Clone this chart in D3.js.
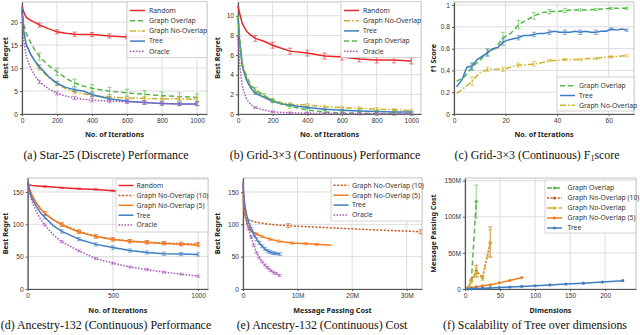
<!DOCTYPE html>
<html>
<head>
<meta charset="utf-8">
<script src="https://cdn.jsdelivr.net/npm/d3@7"></script>
<style>
  body { margin: 0; background: #fff; }
  svg { display: block; }
</style>
</head>
<body>
<div id="chart"></div>
<script>
// ---- (a) Star-25 (Discrete) ----
const itersA = [0, 10, 25, 50, 75, 100, 150, 200, 250, 300, 350, 400, 500, 600, 700, 800, 900, 1000];
const randomA = [23.5, 22.2, 21, 20.4, 19.9, 19.4, 18.6, 17.9, 17.6, 17.4, 17.3, 17.3, 17.0, 16.8, 16.7, 16.6, 16.5, 16.5];
const overlapA = [23, 19.5, 17.5, 15.5, 13.8, 12.5, 10.6, 9.2, 7.8, 6.8, 6.1, 5.6, 5.0, 4.6, 4.3, 4.0, 3.8, 3.6];
const noOverlapA = [23, 18, 15, 13, 11.2, 10, 8, 6.6, 5.5, 4.8, 4.4, 4.1, 3.7, 3.5, 3.4, 3.3, 3.3, 3.2];
const treeA = [23, 18, 15, 13, 11.5, 10.3, 8.2, 6.7, 5.8, 5.3, 5.0, 4.2, 3.3, 2.8, 2.5, 2.3, 2.2, 2.2];
const oracleA = [22, 16, 12.5, 10, 8.2, 7.0, 5.5, 4.5, 3.9, 3.5, 3.2, 3.0, 2.8, 2.7, 2.5, 2.3, 2.2, 2.2];
const errItersA = [100, 200, 300, 400, 500, 600, 700, 800, 900, 1000];

// ---- (b) Grid-3x3 (Continuous) ----
const itersB = [0, 10, 25, 50, 75, 100, 150, 200, 250, 300, 400, 500, 600, 700, 800, 900, 1000];
const randomB = [11, 10.2, 9.2, 8.4, 8.0, 7.7, 7.4, 7.0, 6.7, 6.4, 6.2, 5.9, 5.8, 5.6, 5.5, 5.5, 5.4];
const noOverlapB = [10, 7.5, 5.2, 3.7, 2.8, 2.3, 1.8, 1.4, 1.15, 1.0, 0.9, 0.75, 0.65, 0.58, 0.5, 0.42, 0.35];
const treeB = [10, 7.2, 4.8, 3.4, 2.6, 2.1, 1.7, 1.3, 1.05, 0.9, 0.65, 0.48, 0.38, 0.3, 0.25, 0.2, 0.2];
const overlapB = [10, 7.5, 5.0, 3.8, 2.9, 2.5, 1.9, 1.35, 1.0, 0.8, 0.4, 0.2, 0.12, 0.08, 0.05, 0.04, 0.03];
const oracleB = [8, 5, 2.8, 1.5, 0.95, 0.65, 0.4, 0.22, 0.16, 0.12, 0.07, 0.05, 0.04, 0.03, 0.02, 0.02, 0.02];
const errItersB = [100, 200, 300, 400, 500, 600, 700, 800, 900, 1000];

// ---- (c) Grid-3x3 (Continuous) F1 score ----
const itersTreeC = [1, 3, 5, 7, 9, 11, 13, 15, 17, 19, 21, 23, 25, 27, 29, 31, 33, 35, 37, 39, 41, 43, 45, 47, 49, 51, 53, 55, 57, 59, 61, 63, 65, 67];
const treeC = [0.25, 0.31, 0.43, 0.44, 0.5, 0.53, 0.56, 0.6, 0.61, 0.66, 0.68, 0.69, 0.7, 0.72, 0.72, 0.73, 0.74, 0.74, 0.75, 0.76, 0.75, 0.75, 0.75, 0.76, 0.75, 0.76, 0.75, 0.75, 0.76, 0.76, 0.78, 0.77, 0.78, 0.77];
const itersGraphC = [1, 4, 7, 10, 13, 16, 19, 22, 25, 28, 31, 34, 37, 40, 43, 46, 49, 52, 55, 58, 61, 64, 67];
const overlapC = [0.3, 0.34, 0.43, 0.49, 0.57, 0.6, 0.7, 0.74, 0.82, 0.86, 0.9, 0.93, 0.94, 0.94, 0.95, 0.955, 0.955, 0.955, 0.96, 0.965, 0.97, 0.97, 0.97];
const noOverlapC = [0.19, 0.24, 0.3, 0.38, 0.41, 0.41, 0.41, 0.43, 0.45, 0.45, 0.46, 0.47, 0.49, 0.49, 0.5, 0.5, 0.5, 0.51, 0.51, 0.52, 0.525, 0.53, 0.535];
const errItersC = [7, 13, 19, 25, 31, 37, 43, 49, 55, 61, 67];
const overlapErrC = [0.03, 0.03, 0.05, 0.04, 0.03, 0.02, 0.02, 0.01, 0.01, 0.01, 0.01];
const treeErrC = [0.03, 0.03, 0.03, 0.02, 0.02, 0.02, 0.02, 0.02, 0.02, 0.01, 0.01];
const noOverlapErrC = [0.04, 0.02, 0.02, 0.02, 0.02, 0.01, 0.01, 0.01, 0.01, 0.01, 0.01];

// ---- (d) Ancestry-132 (Continuous) ----
const itersD = [0, 10, 25, 50, 75, 100, 150, 200, 300, 400, 500, 600, 700, 800, 900, 1000];
const randomD = [165, 161, 160, 159.5, 159, 158.5, 157.5, 156.5, 155, 154, 152, 151, 150.5, 150, 149.5, 149];
const noOverlap10D = [165, 155, 145, 133, 124, 117, 107, 100, 89, 81.5, 77, 74, 72.5, 71, 70, 69.5];
const noOverlap5D = [165, 155, 145, 133, 124, 117, 107, 99, 88, 81, 76.5, 74, 72, 70.5, 69, 68];
const treeD = [165, 152, 140, 128, 118, 111, 98, 89, 77, 69, 64, 59.5, 56.5, 54.5, 54, 53.5];
const oracleD = [162, 148, 135, 120, 108, 99, 84, 73, 59, 47, 40, 34, 30, 26, 23, 20];
const errItersD = [100, 200, 300, 400, 500, 600, 700, 800, 900, 1000];

// ---- (e) Ancestry-132 cost (millions) ----
const costNoOverlap10E = [0, 0.1, 0.3, 0.6, 1, 2, 4, 6, 8.3, 10, 15, 20, 25, 30, 32.5];
const noOverlap10E = [150, 125, 113, 109, 107, 104, 101, 99, 98, 97, 95, 93, 91, 89.5, 88.5];
const costNoOverlap5E = [0, 0.15, 0.4, 0.8, 1.5, 2.5, 3.5, 5, 6.5, 9, 11.5, 13.5, 16.2];
const noOverlap5E = [162, 135, 112, 99, 90, 85, 81, 77, 74, 71, 70, 69, 67.5];
const costTreeE = [0, 0.15, 0.3, 0.6, 1, 1.5, 2, 2.5, 3, 3.5, 4, 4.5, 5, 5.5, 6, 6.8];
const treeE = [165, 145, 132, 117, 104, 93, 84, 77, 71, 66, 62, 59, 57, 55.5, 55, 54];
const costOracleE = [0, 0.15, 0.3, 0.6, 1, 1.5, 2, 2.5, 3, 3.5, 4, 4.5, 5, 5.5, 6, 6.7];
const oracleE = [162, 140, 125, 108, 93, 80, 67, 56, 48, 42, 37, 33, 29, 26, 24, 21];

// ---- (f) Scalability (cost in millions) ----
const dimsTreeF = [4, 9, 16, 25, 36, 49, 64, 81, 100, 121, 144, 169, 196, 225];
const treeF = [0.1, 0.3, 0.6, 1, 1.5, 2.1, 2.8, 3.6, 4.5, 5.6, 6.8, 8.1, 9.6, 11.5];
const dimsNoOverlap5F = [4, 9, 16, 25, 36, 49, 64, 81];
const noOverlap5F = [0.5, 1.8, 3, 4.2, 5.8, 8.5, 11.8, 15.8];
const dimsGraphF = [4, 9, 16, 25, 36];
const noOverlap10F = [1, 12, 25, 16, 64];
const noOverlapF = [1, 11, 23, 15, 63];
const dimsOverlapF = [4, 9, 16];
const overlapF = [0.5, 11, 121];

const C = {
  random: '#e8262b', overlap: '#55b748', noOverlap: '#d2b12b', tree: '#3d7ec2',
  oracle: '#a757b9', no10: '#c8581e', no5: '#f27c1f'
};
const DASH = { overlap: '5,3', noOverlap: '6,2,1.5,2', oracle: '1.5,1.5', no10: '2,1.6', solid: null };

const svg = d3.select('#chart').append('svg')
  .attr('width', 640).attr('height', 335)
  .style('font-family', "'Noto Sans', 'Open Sans', sans-serif");

const zip = (xs, ys) => xs.map((v, i) => [v, ys[i]]);

function panel(cfg) {
  const g = svg.append('g');
  const x = d3.scaleLinear().domain(cfg.xDomain).range(cfg.xRange);
  const y = d3.scaleLinear().domain(cfg.yDomain).range(cfg.yRange);
  const [x0, x1] = cfg.xRange, [y0, y1] = cfg.yRange;

  // grid
  g.append('g').selectAll('line').data(cfg.xTicks.filter(d => d > 0)).join('line')
    .attr('x1', d => x(d)).attr('x2', d => x(d)).attr('y1', y0).attr('y2', y1)
    .attr('stroke', '#dcdcdc').attr('stroke-width', 1);
  g.append('g').selectAll('line').data(cfg.yTicks.filter(d => d > 0)).join('line')
    .attr('y1', d => y(d)).attr('y2', d => y(d)).attr('x1', x0).attr('x2', x1)
    .attr('stroke', '#dcdcdc').attr('stroke-width', 1);
  g.append('rect').attr('x', x0).attr('y', y1).attr('width', x1 - x0).attr('height', y0 - y1)
    .attr('fill', 'none').attr('stroke', '#b5b5b5').attr('stroke-width', 0.8);

  // axes
  const fmtX = cfg.xFormat || (d => d);
  const fmtY = cfg.yFormat || (d => d);
  const ax = g.append('g').attr('transform', `translate(0,${y0})`)
    .call(d3.axisBottom(x).tickValues(cfg.xTicks).tickFormat(fmtX).tickSize(2).tickSizeOuter(0).tickPadding(2));
  const ay = g.append('g').attr('transform', `translate(${x0},0)`)
    .call(d3.axisLeft(y).tickValues(cfg.yTicks).tickFormat(fmtY).tickSize(2).tickSizeOuter(0).tickPadding(2));
  [ax, ay].forEach(a => {
    a.select('.domain').attr('stroke', '#555').attr('stroke-width', 1.2);
    a.selectAll('.tick line').attr('stroke', '#555');
    a.selectAll('.tick text').attr('font-size', 6.6).attr('fill', '#333').attr('font-family', null);
  });

  // axis titles
  g.append('text').attr('x', (x0 + x1) / 2).attr('y', cfg.xLabelY)
    .attr('text-anchor', 'middle').attr('font-size', 7.2).attr('font-weight', 'bold').attr('fill', '#222')
    .text(cfg.xLabel);
  g.append('text').attr('transform', `translate(${cfg.yLabelX},${(y0 + y1) / 2}) rotate(-90)`)
    .attr('text-anchor', 'middle').attr('font-size', 7.2).attr('font-weight', 'bold').attr('fill', '#222')
    .text(cfg.yLabel);

  // series
  const line = d3.line().x(d => x(d[0])).y(d => y(d[1]));
  cfg.series.forEach(s => {
    const pts = zip(s.x, s.y);
    g.append('path').datum(pts).attr('d', line)
      .attr('fill', 'none').attr('stroke', s.color).attr('stroke-width', 1.5)
      .attr('stroke-dasharray', s.dash).attr('stroke-linejoin', 'round');
    if (s.errX) {
      const eg = g.append('g').attr('stroke', s.color).attr('stroke-opacity', 0.6).attr('stroke-width', 1);
      s.errX.forEach((ex, i) => {
        const k = s.x.indexOf(ex);
        if (k < 0) return;
        const e = Array.isArray(s.err) ? s.err[i] : s.err;
        const v = s.y[k];
        const hi = s.errHi ? s.errHi[i] : e;
        const cx = x(ex);
        eg.append('line').attr('x1', cx).attr('x2', cx).attr('y1', y(v - e)).attr('y2', y(v + hi));
        eg.append('line').attr('x1', cx - 2.2).attr('x2', cx + 2.2).attr('y1', y(v - e)).attr('y2', y(v - e));
        eg.append('line').attr('x1', cx - 2.2).attr('x2', cx + 2.2).attr('y1', y(v + hi)).attr('y2', y(v + hi));
      });
    }
    if (s.marker) {
      g.append('g').selectAll('circle').data(pts).join('circle')
        .attr('cx', d => x(d[0])).attr('cy', d => y(d[1])).attr('r', 1.6).attr('fill', s.color);
    }
  });

  // legend
  const L = cfg.legend;
  const lg = g.append('g');
  lg.append('rect').attr('x', L.x).attr('y', L.y).attr('width', L.w).attr('height', L.h)
    .attr('fill', '#fff').attr('fill-opacity', 0.92).attr('stroke', '#c8c8c8').attr('stroke-width', 0.8);
  cfg.series.forEach((s, i) => {
    const ry = L.y + L.first + i * L.step;
    lg.append('line').attr('x1', L.x + L.lx).attr('x2', L.x + L.lx + 15).attr('y1', ry).attr('y2', ry)
      .attr('stroke', s.color).attr('stroke-width', 1.5).attr('stroke-dasharray', s.dash);
    if (s.marker) lg.append('circle').attr('cx', L.x + L.lx + 7.5).attr('cy', ry).attr('r', 1.6).attr('fill', s.color);
    lg.append('text').attr('x', L.x + L.tx).attr('y', ry).attr('dy', '0.35em')
      .attr('font-size', 6.8).attr('fill', '#333').text(s.name);
  });

  // caption
  const cap = svg.append('text').attr('x', cfg.capX).attr('y', cfg.capY).attr('text-anchor', 'middle')
    .attr('font-family', "'Liberation Serif', 'Times New Roman', serif").attr('font-size', 11.9).attr('fill', '#111');
  cfg.caption.forEach(part => {
    const t = cap.append('tspan').text(part.t);
    if (part.sub) t.attr('font-size', 8).attr('dy', 2);
    if (part.after) t.attr('dy', -2);
  });
}

const mFmt = d => d === 0 ? '0' : d + 'M';

panel({
  xRange: [22, 207], yRange: [114, 2], xDomain: [0, 1057], yDomain: [0, 24.4],
  xTicks: [0, 200, 400, 600, 800, 1000], yTicks: [0, 5, 10, 15, 20],
  xLabel: 'No. of Iterations', xLabelY: 137, yLabel: 'Best Regret', yLabelX: 8,
  legend: { x: 127, y: 1.5, w: 80, h: 56, first: 9, step: 10.2, lx: 3, tx: 22 },
  caption: [{ t: '(a) Star-25 (Discrete) Performance' }], capX: 106, capY: 158.5,
  series: [
    { name: 'Random', x: itersA, y: randomA, color: C.random, dash: null, errX: errItersA, err: 0.45 },
    { name: 'Graph Overlap', x: itersA, y: overlapA, color: C.overlap, dash: DASH.overlap, errX: errItersA, err: 0.8 },
    { name: 'Graph No-Overlap', x: itersA, y: noOverlapA, color: C.noOverlap, dash: DASH.noOverlap, errX: errItersA, err: 0.45 },
    { name: 'Tree', x: itersA, y: treeA, color: C.tree, dash: null, errX: errItersA, err: 0.4 },
    { name: 'Oracle', x: itersA, y: oracleA, color: C.oracle, dash: DASH.oracle, errX: errItersA, err: 0.35 }
  ]
});

panel({
  xRange: [238, 421], yRange: [114, 2], xDomain: [0, 1056], yDomain: [0, 11.4],
  xTicks: [0, 200, 400, 600, 800, 1000], yTicks: [0, 2, 4, 6, 8, 10],
  xLabel: 'No. of Iterations', xLabelY: 137, yLabel: 'Best Regret', yLabelX: 220,
  legend: { x: 341, y: 1.5, w: 80, h: 56, first: 9, step: 10.2, lx: 3, tx: 22 },
  caption: [{ t: '(b) Grid-3\u00d73 (Continuous) Performance' }], capX: 325, capY: 158.5,
  series: [
    { name: 'Random', x: itersB, y: randomB, color: C.random, dash: null, errX: errItersB, err: 0.3 },
    { name: 'Graph No-Overlap', x: itersB, y: noOverlapB, color: C.noOverlap, dash: DASH.noOverlap, errX: errItersB, err: 0.15 },
    { name: 'Tree', x: itersB, y: treeB, color: C.tree, dash: null, errX: errItersB, err: 0.1 },
    { name: 'Graph Overlap', x: itersB, y: overlapB, color: C.overlap, dash: DASH.overlap, errX: [100, 150, 200, 300, 400, 500, 600, 700, 800, 900, 1000], err: 0.2 },
    { name: 'Oracle', x: itersB, y: oracleB, color: C.oracle, dash: DASH.oracle, errX: errItersB, err: 0.08 }
  ]
});

panel({
  xRange: [454, 634], yRange: [114, 2], xDomain: [0, 69.8], yDomain: [0, 1.028],
  xTicks: [0, 20, 40, 60], yTicks: [0, 0.2, 0.4, 0.6, 0.8, 1],
  xLabel: 'No. of Iterations', xLabelY: 137, yLabel: 'f1 Score', yLabelX: 436,
  legend: { x: 557, y: 77, w: 77, h: 34, first: 8.7, step: 9.8, lx: 3, tx: 22 },
  caption: [{ t: '(c) Grid-3\u00d73 (Continuous) F' }, { t: '1', sub: true }, { t: 'score', after: true }], capX: 537, capY: 158.5,
  series: [
    { name: 'Graph Overlap', x: itersGraphC, y: overlapC, color: C.overlap, dash: DASH.overlap, errX: errItersC, err: overlapErrC },
    { name: 'Tree', x: itersTreeC, y: treeC, color: C.tree, dash: null, errX: errItersC, err: treeErrC },
    { name: 'Graph No-Overlap', x: itersGraphC, y: noOverlapC, color: C.noOverlap, dash: DASH.noOverlap, errX: errItersC, err: noOverlapErrC }
  ]
});

panel({
  xRange: [27.7, 208], yRange: [289, 178], xDomain: [0, 1058], yDomain: [0, 171.6],
  xTicks: [0, 500, 1000], yTicks: [0, 50, 100, 150],
  xLabel: 'No. of Iterations', xLabelY: 313, yLabel: 'Best Regret', yLabelX: 8,
  legend: { x: 116, y: 179, w: 92, h: 53, first: 6.5, step: 9.9, lx: 2.5, tx: 20.5 },
  caption: [{ t: '(d) Ancestry-132 (Continuous) Performance' }], capX: 106, capY: 328.5,
  series: [
    { name: 'Random', x: itersD, y: randomD, color: C.random, dash: null, errX: errItersD, err: 1 },
    { name: 'Graph No-Overlap (10)', x: itersD, y: noOverlap10D, color: C.no10, dash: DASH.no10, errX: errItersD, err: 2.5 },
    { name: 'Graph No-Overlap (5)', x: itersD, y: noOverlap5D, color: C.no5, dash: null, errX: errItersD, err: 2.5 },
    { name: 'Tree', x: itersD, y: treeD, color: C.tree, dash: null, errX: errItersD, err: 2.5 },
    { name: 'Oracle', x: itersD, y: oracleD, color: C.oracle, dash: DASH.oracle, errX: errItersD, err: 1.5 }
  ]
});

panel({
  xRange: [243, 422], yRange: [289, 178], xDomain: [0, 32.8], yDomain: [0, 171.6],
  xTicks: [0, 10, 20, 30], yTicks: [0, 50, 100, 150], xFormat: mFmt,
  xLabel: 'Message Passing Cost', xLabelY: 313, yLabel: 'Best Regret', yLabelX: 220,
  legend: { x: 331, y: 178, w: 91, h: 43, first: 7.3, step: 9.9, lx: 2.5, tx: 21 },
  caption: [{ t: '(e) Ancestry-132 (Continuous) Cost' }], capX: 322, capY: 328.5,
  series: [
    { name: 'Graph No-Overlap (10)', x: costNoOverlap10E, y: noOverlap10E, color: C.no10, dash: DASH.no10, errX: [8.3, 32.5], err: 3 },
    { name: 'Graph No-Overlap (5)', x: costNoOverlap5E, y: noOverlap5E, color: C.no5, dash: null, errX: [1.5, 2.5, 3.5, 5, 6.5, 9, 11.5, 13.5], err: 1.8 },
    { name: 'Tree', x: costTreeE, y: treeE, color: C.tree, dash: null, errX: [1, 1.5, 2, 2.5, 3, 3.5, 4, 4.5, 5, 5.5, 6, 6.8], err: 2.2 },
    { name: 'Oracle', x: costOracleE, y: oracleE, color: C.oracle, dash: DASH.oracle, errX: [1, 1.5, 2, 2.5, 3, 3.5, 4, 4.5, 5, 5.5, 6, 6.7], err: 1.5 }
  ]
});

panel({
  xRange: [465, 636], yRange: [289, 178], xDomain: [0, 244], yDomain: [0, 153.7],
  xTicks: [0, 50, 100, 150, 200], yTicks: [0, 50, 100, 150], yFormat: mFmt,
  xLabel: 'Dimensions', xLabelY: 313, yLabel: 'Message Passing Cost', yLabelX: 436,
  legend: { x: 545, y: 180, w: 91, h: 53, first: 8, step: 10, lx: 2, tx: 22.5 },
  caption: [{ t: '(f) Scalability of Tree over dimensions' }], capX: 535, capY: 328.5,
  series: [
    { name: 'Graph Overlap', x: dimsOverlapF, y: overlapF, color: C.overlap, dash: DASH.overlap, marker: true, errX: [16], err: 23 },
    { name: 'Graph No-Overlap (10)', x: dimsGraphF, y: noOverlap10F, color: C.no10, dash: DASH.no10, marker: true, errX: [16, 36], err: [8, 20], errHi: [8, 22] },
    { name: 'Graph No-Overlap', x: dimsGraphF, y: noOverlapF, color: C.noOverlap, dash: DASH.noOverlap, marker: true, errX: [9, 16, 25, 36], err: [3, 7, 3, 18], errHi: [3, 7, 3, 19] },
    { name: 'Graph No-Overlap (5)', x: dimsNoOverlap5F, y: noOverlap5F, color: C.no5, dash: null, marker: true },
    { name: 'Tree', x: dimsTreeF, y: treeF, color: C.tree, dash: null, marker: true }
  ]
});
</script>
</body>
</html>
